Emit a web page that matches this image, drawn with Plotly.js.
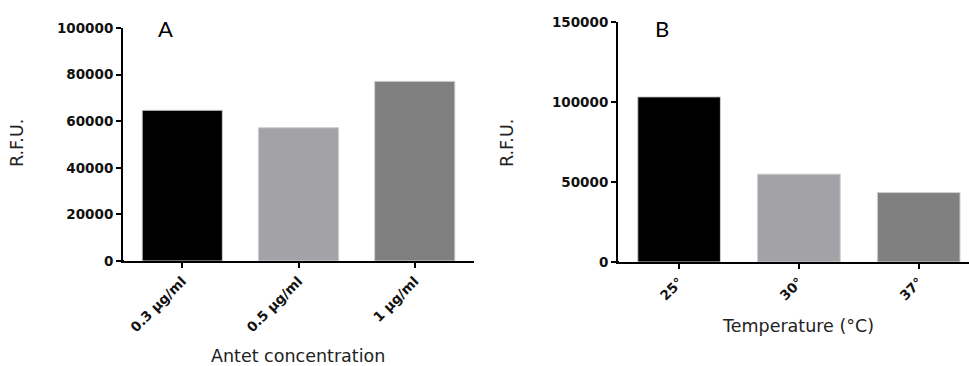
<!DOCTYPE html>
<html>
<head>
<meta charset="utf-8">
<script src="https://cdn.plot.ly/plotly-3.0.1.min.js"></script>
<style>html,body{margin:0;padding:0;background:#fff;}#chart{width:969px;height:366px;}</style>
</head>
<body>
<div id="chart"></div>
<script>
// Panel A data
const categoriesA = ["0.3 µg/ml", "0.5 µg/ml", "1 µg/ml"];
const valuesA = [64700, 57200, 77100];
const yTicksA = [0, 20000, 40000, 60000, 80000, 100000];
// Panel B data
const categoriesB = ["25°", "30°", "37°"];
const valuesB = [103200, 54900, 43400];
const yTicksB = [0, 50000, 100000, 150000];
const barColors = ["#000000", "#a3a3a7", "#808080"];

const W = 969, H = 366;
const px = v => v / W;
const py = v => 1 - v / H;

const tickFont = {family: "DejaVu Sans, Liberation Sans, Arial, sans-serif", size: 13.5, color: "#111", weight: "bold"};
const titleFont = {family: "DejaVu Sans, Liberation Sans, Arial, sans-serif", size: 17.5, color: "#222"};

const traces = [
  {type: "bar", x: categoriesA, y: valuesA, xaxis: "x", yaxis: "y", width: 0.69,
   marker: {color: barColors, line: {color: "#cfcfcf", width: 1}}, hoverinfo: "x+y"},
  {type: "bar", x: categoriesB, y: valuesB, xaxis: "x2", yaxis: "y2", width: 0.69,
   marker: {color: barColors, line: {color: "#cfcfcf", width: 1}}, hoverinfo: "x+y"}
];

const axisCommon = {showline: true, linecolor: "#000", linewidth: 2, ticks: "outside", ticklen: 5,
  tickwidth: 2, tickcolor: "#000", showgrid: false, zeroline: false, tickfont: tickFont, fixedrange: true};

const layout = {
  width: W, height: H,
  margin: {l: 0, r: 0, t: 0, b: 0},
  paper_bgcolor: "#fff", plot_bgcolor: "#fff",
  showlegend: false,
  xaxis: Object.assign({}, axisCommon, {domain: [px(123), px(474)], anchor: "y", range: [-0.51, 2.51], tickangle: -45}),
  yaxis: Object.assign({}, axisCommon, {domain: [py(261), py(28)], anchor: "x", range: [0, 100000], tickvals: yTicksA, ticktext: yTicksA.map(String)}),
  xaxis2: Object.assign({}, axisCommon, {domain: [px(618), 1], anchor: "y2", range: [-0.51, 2.42], tickangle: -45}),
  yaxis2: Object.assign({}, axisCommon, {domain: [py(262), py(22)], anchor: "x2", range: [0, 150000], tickvals: yTicksB, ticktext: yTicksB.map(String)}),
  annotations: [
    {text: "A", xref: "paper", yref: "paper", x: px(165), y: py(29), showarrow: false, xanchor: "center", yanchor: "middle",
     font: {family: "Lato, Open Sans, sans-serif", size: 22, color: "#000"}},
    {text: "B", xref: "paper", yref: "paper", x: px(662), y: py(29), showarrow: false, xanchor: "center", yanchor: "middle",
     font: {family: "Lato, Open Sans, sans-serif", size: 22, color: "#000"}},
    {text: "R.F.U.", xref: "paper", yref: "paper", x: px(17), y: py(143), showarrow: false, textangle: -90, xanchor: "center", yanchor: "middle", font: titleFont},
    {text: "R.F.U.", xref: "paper", yref: "paper", x: px(507), y: py(143), showarrow: false, textangle: -90, xanchor: "center", yanchor: "middle", font: titleFont},
    {text: "Antet concentration", xref: "paper", yref: "paper", x: px(298), y: py(356), showarrow: false, xanchor: "center", yanchor: "middle", font: titleFont},
    {text: "Temperature (°C)", xref: "paper", yref: "paper", x: px(798), y: py(326), showarrow: false, xanchor: "center", yanchor: "middle", font: titleFont}
  ],
  shapes: [
    {type: "line", xref: "paper", yref: "paper", x0: px(118), x1: px(124), y0: py(261), y1: py(261), line: {color: "#000", width: 2}},
    {type: "line", xref: "paper", yref: "paper", x0: px(613), x1: px(619), y0: py(262), y1: py(262), line: {color: "#000", width: 2}}
  ]
};

Plotly.newPlot("chart", traces, layout, {displayModeBar: false, staticPlot: true});
</script>
</body>
</html>
